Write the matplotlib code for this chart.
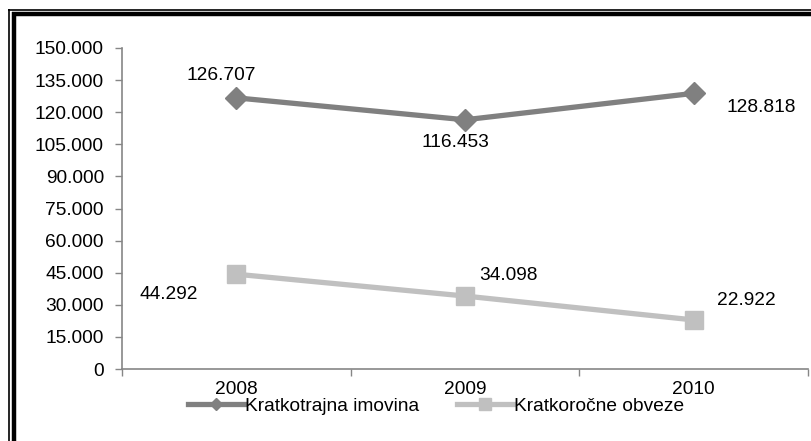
import matplotlib
matplotlib.use('Agg')
import matplotlib.pyplot as plt
from matplotlib.lines import Line2D
from matplotlib.ticker import FuncFormatter, FixedLocator

plt.rcParams['font.family'] = ['Liberation Sans', 'DejaVu Sans']

years = ['2008', '2009', '2010']
imovina = [126707, 116453, 128818]
obveze = [44292, 34098, 22922]
series_names = ['Kratkotrajna imovina', 'Kratkoročne obveze']
y_ticks = list(range(0, 150001, 15000))

W, H = 811, 441
FS = 13.8
fig = plt.figure(figsize=(W / 100, H / 100), dpi=100)
ax = fig.add_axes([122 / W, 1 - 369 / H, (808 - 122) / W, (369 - 48) / H])

x = list(range(len(years)))
c1, c2 = '#808080', '#C0C0C0'
l1, = ax.plot(x, imovina, color=c1, lw=3.8, marker='D', ms=11, mec=c1, mfc=c1,
              label=series_names[0], clip_on=False, zorder=3)
l2, = ax.plot(x, obveze, color=c2, lw=3.8, marker='s', ms=13.5, mec=c2, mfc=c2,
              label=series_names[1], clip_on=False, zorder=3)

fmt = lambda v: f'{v:,.0f}'.replace(',', '.')

# label offsets in pixels from the point (dx, dy)
off1 = [(-15, 22), (-10, -23), (68, -14)]
off2 = [(-68, -20), (43, 21), (53, 19)]
for i in x:
    ax.annotate(fmt(imovina[i]), (i, imovina[i]), xytext=off1[i],
                textcoords='offset pixels', ha='center', va='center', fontsize=FS)
    ax.annotate(fmt(obveze[i]), (i, obveze[i]), xytext=off2[i],
                textcoords='offset pixels', ha='center', va='center', fontsize=FS)

ax.set_xlim(-0.5, 2.5)
ax.set_ylim(0, 150000)
ax.yaxis.set_major_locator(FixedLocator(y_ticks))
ax.yaxis.set_major_formatter(FuncFormatter(lambda v, p: fmt(v)))
ax.set_xticks(x)
ax.set_xticklabels(years)
ax.set_xticks([-0.5, 0.5, 1.5, 2.5], minor=True)
ax.tick_params(axis='x', which='major', length=0, pad=9, labelsize=FS)
ax.tick_params(axis='x', which='minor', length=5, color='#868686', width=1)
ax.tick_params(axis='y', length=5, color='#868686', width=1, labelsize=FS, pad=8)
for s in ['top', 'right']:
    ax.spines[s].set_visible(False)
for s in ['left', 'bottom']:
    ax.spines[s].set_color('#868686')
    ax.spines[s].set_linewidth(1.2)

fig.legend(handles=[l1, l2], loc='center', bbox_to_anchor=(436 / W, 1 - 406 / H),
           ncol=2, frameon=False, fontsize=FS, handlelength=2.9,
           handletextpad=0.05, columnspacing=2.0, markerscale=0.6,
           borderpad=0, borderaxespad=0)

# double frame (only top/left visible)
tf = fig.transFigure
fig.add_artist(Line2D([8.5 / W, 8.5 / W], [0, 1 - 9 / H], color='black', lw=1.2,
                      transform=tf, solid_capstyle='butt'))
fig.add_artist(Line2D([8 / W, 1], [1 - 9.5 / H, 1 - 9.5 / H], color='black', lw=1.2,
                      transform=tf, solid_capstyle='butt'))
fig.add_artist(Line2D([13.5 / W, 13.5 / W], [0, 1 - 12 / H], color='black', lw=3.2,
                      transform=tf, solid_capstyle='butt'))
fig.add_artist(Line2D([12 / W, 1], [1 - 13.5 / H, 1 - 13.5 / H], color='black', lw=3.2,
                      transform=tf, solid_capstyle='butt'))

fig.savefig('out.png', dpi=100, facecolor='white')
